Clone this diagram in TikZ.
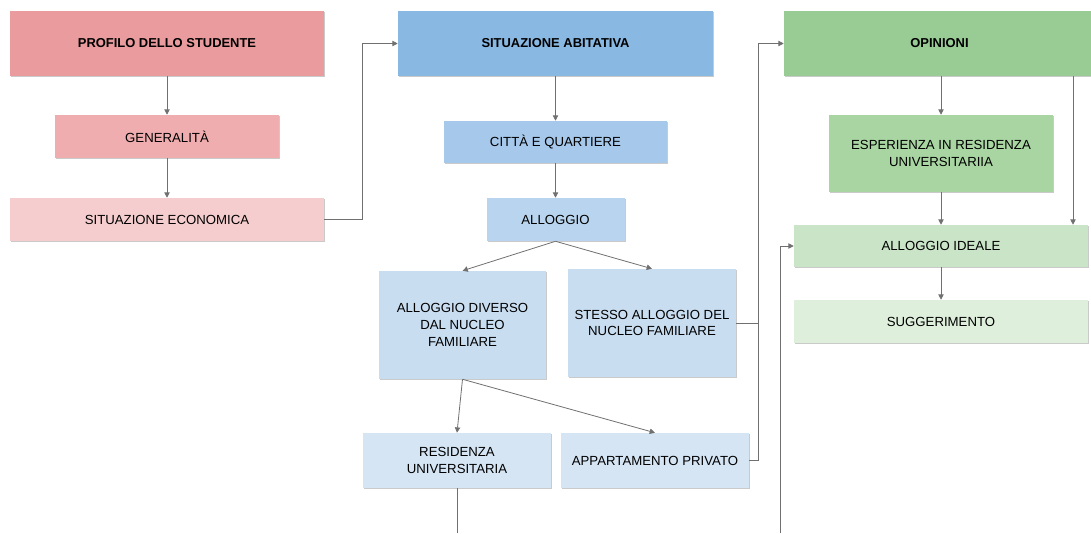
\documentclass[tikz,border=0pt]{standalone}
\usepackage{fontspec}
\setmainfont{Liberation Sans}
\usetikzlibrary{shadows,arrows.meta}
\definecolor{pinkA}{HTML}{EA9B9D}
\definecolor{pinkB}{HTML}{F0ADAF}
\definecolor{pinkC}{HTML}{F5CDCE}
\definecolor{blueA}{HTML}{89B8E3}
\definecolor{blueB}{HTML}{A6C8EA}
\definecolor{blueC}{HTML}{B8D4EE}
\definecolor{blueD}{HTML}{C9DDF1}
\definecolor{blueE}{HTML}{D5E5F4}
\definecolor{greenA}{HTML}{99CB95}
\definecolor{greenB}{HTML}{A8D5A2}
\definecolor{greenC}{HTML}{C9E4C6}
\definecolor{greenD}{HTML}{DEEFDC}
\definecolor{linec}{HTML}{707070}
\tikzset{
  box/.style={inner sep=0pt, align=center, font=\fontsize{9.9}{12.6}\selectfont,
    drop shadow={shadow xshift=0.8pt, shadow yshift=-0.9pt, opacity=0.35, fill=black!60}},
  head/.style={box, font=\fontsize{9.7}{12.6}\selectfont\bfseries},
  sz/.style 2 args={minimum width={#1*0.75pt}, minimum height={#2*0.75pt}},
  conn/.style={draw=linec, line width=0.6pt},
  arr/.style={conn, -{Triangle[length=4pt,width=4pt]}},
}
\begin{document}
\begin{tikzpicture}[x=0.75pt,y=-0.75pt]
\useasboundingbox (0,0) rectangle (1091,533);
% left column
\node[head, fill=pinkA, sz={314}{65}] (prof) at (167,43.5) {PROFILO DELLO STUDENTE};
\node[box, fill=pinkB, sz={224}{43}] (gen) at (167,136.5) {GENERALITÀ};
\node[box, fill=pinkC, sz={314}{43}] (eco) at (167,219.5) {SITUAZIONE ECONOMICA};
% middle column
\node[head, fill=blueA, sz={315}{65}] (abit) at (555.5,43.5) {SITUAZIONE ABITATIVA};
\node[box, fill=blueB, sz={223}{42}] (citta) at (555.5,142) {CITTÀ E QUARTIERE};
\node[box, fill=blueC, sz={138}{43}] (allog) at (555.5,219.5) {ALLOGGIO};
\node[box, fill=blueD, sz={167}{108}] (div) at (462.5,325) {ALLOGGIO DIVERSO\\DAL NUCLEO\\FAMILIARE};
\node[box, fill=blueD, sz={168}{108}] (stesso) at (652,323) {STESSO ALLOGGIO DEL\\NUCLEO FAMILIARE};
\node[box, fill=blueE, sz={188}{55}] (resid) at (457,460.5) {RESIDENZA\\UNIVERSITARIA};
\node[box, fill=blueE, sz={188}{55}] (appart) at (655,460.5) {APPARTAMENTO PRIVATO};
% right column
\node[head, fill=greenA, sz={311}{65}] (opin) at (939.5,43.5) {OPINIONI};
\node[box, fill=greenB, sz={224}{77}] (esper) at (941,153.5) {ESPERIENZA IN RESIDENZA\\UNIVERSITARIIA};
\node[box, fill=greenC, sz={294}{42}] (ideale) at (941,246) {ALLOGGIO IDEALE};
\node[box, fill=greenD, sz={294}{43}] (sugg) at (941,321.5) {SUGGERIMENTO};
% coordinates
\coordinate (ecoBend) at (362,219.5);
\coordinate (busTop) at (758,43.5);
\coordinate (busStesso) at (758,323);
\coordinate (busAppart) at (758,460.5);
\coordinate (residEnd) at (457,533);
\coordinate (idealeStart) at (780,533);
\coordinate (opinRight) at (1073,76);
% connectors
\draw[arr] (gen.north |- prof.south) -- (gen.north);
\draw[arr] (gen.south) -- (gen.south |- eco.north);
\draw[arr] (eco.east) -- (ecoBend) |- (abit.west);
\draw[arr] (citta.north |- abit.south) -- (citta.north);
\draw[arr] (citta.south) -- (citta.south |- allog.north);
\draw[arr] (allog.south) -- (div.north);
\draw[arr] (allog.south) -- (stesso.north);
\draw[arr] (div.south) -- (resid.north);
\draw[arr] (div.south) -- (appart.north);
\draw[arr] (stesso.east) -- (busStesso) |- (opin.west);
\draw[conn] (appart.east) -- (busAppart) -- (busStesso);
\draw[conn] (resid.south) -- (residEnd);
\draw[arr] (idealeStart) |- (ideale.west);
\draw[arr] (esper.north |- opin.south) -- (esper.north);
\draw[arr] (esper.south) -- (esper.south |- ideale.north);
\draw[arr] (opinRight) -- (opinRight |- ideale.north);
\draw[arr] (sugg.north |- ideale.south) -- (sugg.north);
\end{tikzpicture}
\end{document}
